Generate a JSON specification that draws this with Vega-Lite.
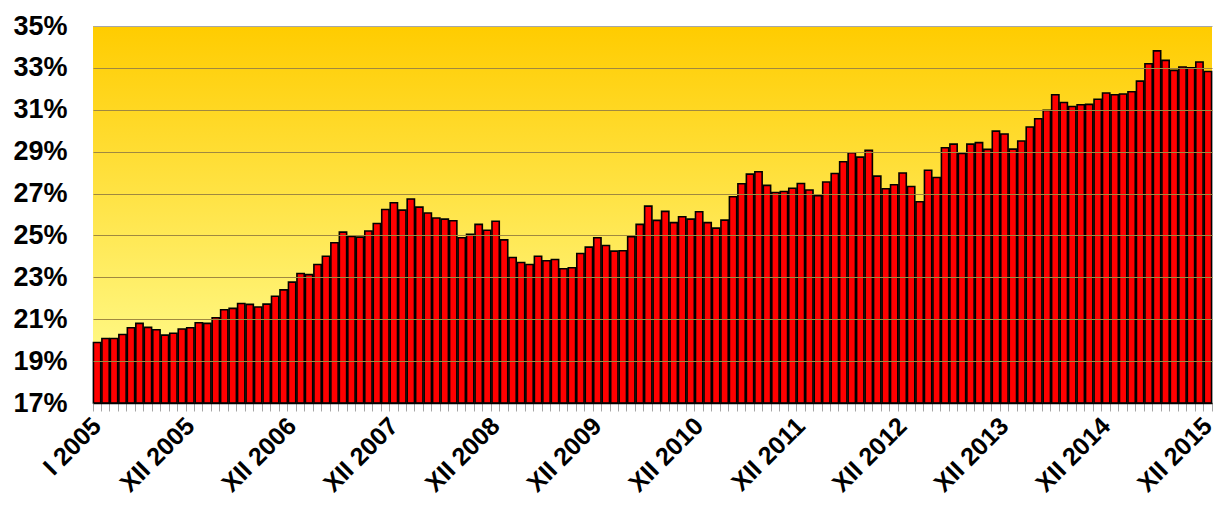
{
  "$schema": "https://vega.github.io/schema/vega-lite/v6.json",
  "autosize": "none",
  "width": 1119,
  "height": 377,
  "padding": {"left": 93, "top": 26, "right": 3, "bottom": 103},
  "background": "white",
  "config": {"view": {"stroke": null}},
  "datasets": {
    "rates": [
    {"m":"I 2005","v":19.89},{"m":"II 2005","v":20.08},{"m":"III 2005","v":20.08},{"m":"IV 2005","v":20.27},{"m":"V 2005","v":20.59},{"m":"VI 2005","v":20.80},{"m":"VII 2005","v":20.61},{"m":"VIII 2005","v":20.50},{"m":"IX 2005","v":20.24},{"m":"X 2005","v":20.33},{"m":"XI 2005","v":20.53},{"m":"XII 2005","v":20.59},
    {"m":"I 2006","v":20.83},{"m":"II 2006","v":20.80},{"m":"III 2006","v":21.07},{"m":"IV 2006","v":21.45},{"m":"V 2006","v":21.52},{"m":"VI 2006","v":21.75},{"m":"VII 2006","v":21.71},{"m":"VIII 2006","v":21.58},{"m":"IX 2006","v":21.72},{"m":"X 2006","v":22.10},{"m":"XI 2006","v":22.40},{"m":"XII 2006","v":22.77},
    {"m":"I 2007","v":23.18},{"m":"II 2007","v":23.13},{"m":"III 2007","v":23.61},{"m":"IV 2007","v":24.01},{"m":"V 2007","v":24.65},{"m":"VI 2007","v":25.16},{"m":"VII 2007","v":24.95},{"m":"VIII 2007","v":24.92},{"m":"IX 2007","v":25.21},{"m":"X 2007","v":25.57},{"m":"XI 2007","v":26.24},{"m":"XII 2007","v":26.56},
    {"m":"I 2008","v":26.21},{"m":"II 2008","v":26.74},{"m":"III 2008","v":26.35},{"m":"IV 2008","v":26.07},{"m":"V 2008","v":25.83},{"m":"VI 2008","v":25.78},{"m":"VII 2008","v":25.70},{"m":"VIII 2008","v":24.89},{"m":"IX 2008","v":25.05},{"m":"X 2008","v":25.53},{"m":"XI 2008","v":25.25},{"m":"XII 2008","v":25.68},
    {"m":"I 2009","v":24.79},{"m":"II 2009","v":23.95},{"m":"III 2009","v":23.71},{"m":"IV 2009","v":23.61},{"m":"V 2009","v":24.01},{"m":"VI 2009","v":23.79},{"m":"VII 2009","v":23.85},{"m":"VIII 2009","v":23.41},{"m":"IX 2009","v":23.46},{"m":"X 2009","v":24.14},{"m":"XI 2009","v":24.44},{"m":"XII 2009","v":24.89},
    {"m":"I 2010","v":24.52},{"m":"II 2010","v":24.25},{"m":"III 2010","v":24.27},{"m":"IV 2010","v":24.94},{"m":"V 2010","v":25.53},{"m":"VI 2010","v":26.40},{"m":"VII 2010","v":25.72},{"m":"VIII 2010","v":26.15},{"m":"IX 2010","v":25.61},{"m":"X 2010","v":25.89},{"m":"XI 2010","v":25.78},{"m":"XII 2010","v":26.13},
    {"m":"I 2011","v":25.61},{"m":"II 2011","v":25.35},{"m":"III 2011","v":25.73},{"m":"IV 2011","v":26.85},{"m":"V 2011","v":27.47},{"m":"VI 2011","v":27.93},{"m":"VII 2011","v":28.04},{"m":"VIII 2011","v":27.39},{"m":"IX 2011","v":27.05},{"m":"X 2011","v":27.10},{"m":"XI 2011","v":27.25},{"m":"XII 2011","v":27.48},
    {"m":"I 2012","v":27.17},{"m":"II 2012","v":26.90},{"m":"III 2012","v":27.55},{"m":"IV 2012","v":27.96},{"m":"V 2012","v":28.52},{"m":"VI 2012","v":28.95},{"m":"VII 2012","v":28.74},{"m":"VIII 2012","v":29.06},{"m":"IX 2012","v":27.83},{"m":"X 2012","v":27.23},{"m":"XI 2012","v":27.42},{"m":"XII 2012","v":27.98},
    {"m":"I 2013","v":27.34},{"m":"II 2013","v":26.61},{"m":"III 2013","v":28.11},{"m":"IV 2013","v":27.77},{"m":"V 2013","v":29.19},{"m":"VI 2013","v":29.36},{"m":"VII 2013","v":28.92},{"m":"VIII 2013","v":29.36},{"m":"IX 2013","v":29.43},{"m":"X 2013","v":29.11},{"m":"XI 2013","v":29.98},{"m":"XII 2013","v":29.84},
    {"m":"I 2014","v":29.12},{"m":"II 2014","v":29.51},{"m":"III 2014","v":30.18},{"m":"IV 2014","v":30.57},{"m":"V 2014","v":30.97},{"m":"VI 2014","v":31.72},{"m":"VII 2014","v":31.35},{"m":"VIII 2014","v":31.16},{"m":"IX 2014","v":31.24},{"m":"X 2014","v":31.26},{"m":"XI 2014","v":31.50},{"m":"XII 2014","v":31.80},
    {"m":"I 2015","v":31.72},{"m":"II 2015","v":31.75},{"m":"III 2015","v":31.86},{"m":"IV 2015","v":32.37},{"m":"V 2015","v":33.20},{"m":"VI 2015","v":33.81},{"m":"VII 2015","v":33.36},{"m":"VIII 2015","v":32.88},{"m":"IX 2015","v":33.04},{"m":"X 2015","v":33.01},{"m":"XI 2015","v":33.28},{"m":"XII 2015","v":32.83}
    ]
  },
  "layer": [
    {
      "data": {"values": [{"lo": 17, "hi": 35}]},
      "mark": {
        "type": "rect",
        "fill": {"gradient": "linear", "x1": 0, "y1": 0, "x2": 0, "y2": 1,
          "stops": [{"offset": 0, "color": "#FFCC00"}, {"offset": 1, "color": "#FFFF99"}]}
      },
      "encoding": {
        "y": {"field": "lo", "type": "quantitative", "scale": {"domain": [17, 35], "nice": false, "zero": false},
          "axis": {
            "title": null,
            "values": [17, 19, 21, 23, 25, 27, 29, 31, 33, 35],
            "labelExpr": "datum.value + '%'",
            "labelFont": "Liberation Sans",
            "labelFontWeight": "bold",
            "labelFontSize": 27,
            "labelColor": "#000000",
            "labelPadding": 26,
            "ticks": false,
            "tickSize": 0,
            "domain": false,
            "grid": true,
            "gridColor": {"condition": {"test": "datum.value == 35", "value": "#A6A6A6"}, "value": "#A08840"},
            "gridWidth": 1.2,
            "zindex": 1
          }},
        "y2": {"field": "hi"}
      }
    },
    {
      "data": {"name": "rates"},
      "mark": {"type": "bar", "fill": "#FF0000", "stroke": "#000000", "strokeWidth": 1.6},
      "encoding": {
        "x": {
          "field": "m", "type": "nominal", "sort": null,
          "scale": {"paddingInner": 0.14, "paddingOuter": 0.05},
          "axis": {
            "title": null,
            "labelAngle": -45,
            "labelAlign": "right",
            "labelBaseline": "top",
            "labelFont": "Liberation Sans",
            "labelFontWeight": "bold",
            "labelFontSize": 25,
            "labelColor": "#000000",
            "labelPadding": 2,
            "labelOffset": -9,
            "labelOverlap": false,
            "labelBound": false,
            "labelExpr": "indexof(['I 2005','XII 2005','XII 2006','XII 2007','XII 2008','XII 2009','XII 2010','XII 2011','XII 2012','XII 2013','XII 2014','XII 2015'], datum.value) >= 0 ? datum.value : ''",
            "tickBand": "extent",
            "tickSize": 8,
            "tickColor": "#A6A6A6",
            "tickWidth": 1,
            "domainColor": "#000000",
            "domainWidth": 1.5,
            "grid": false,
            "zindex": 2
          }
        },
        "y": {"field": "v", "type": "quantitative"},
        "y2": {"datum": 17}
      }
    }
  ]
}
